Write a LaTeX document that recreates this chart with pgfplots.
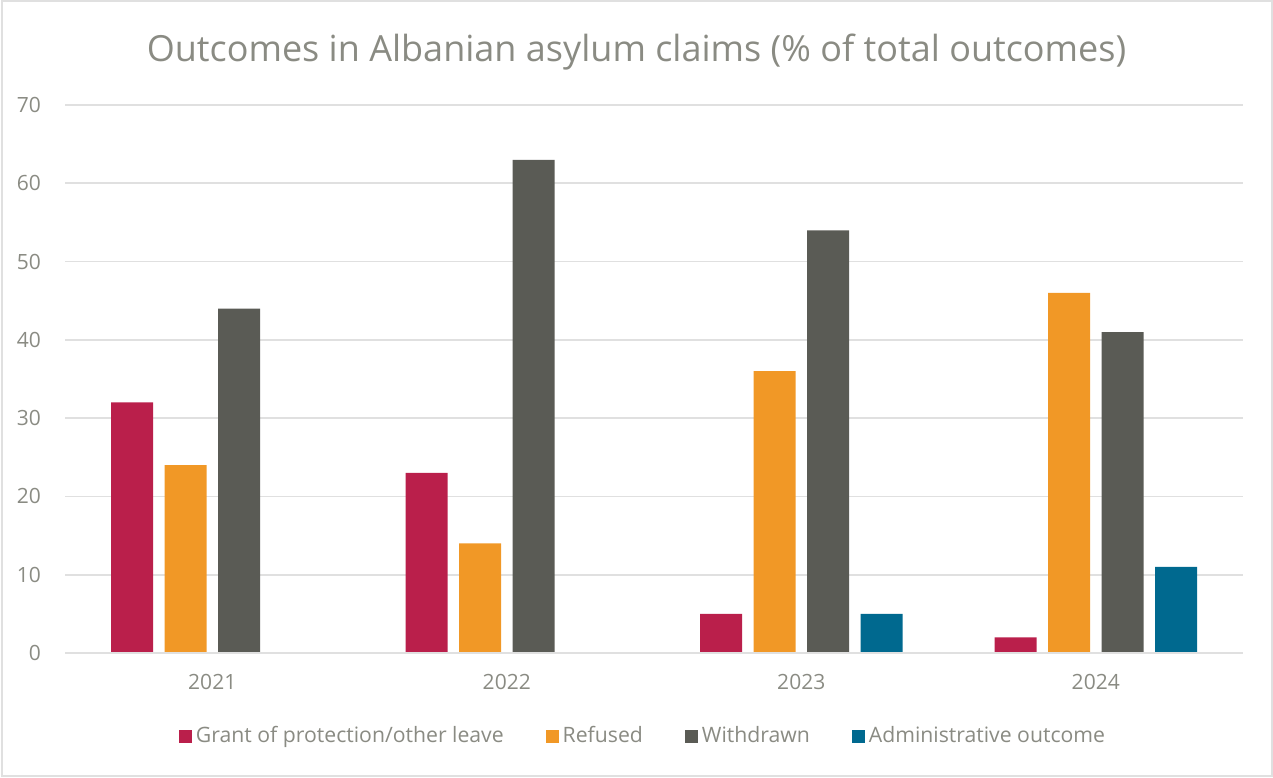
\documentclass[border=0pt]{standalone}
\usepackage{pgfplots}
\pgfplotsset{compat=1.18}
\usepackage{fontspec}
\setmainfont{Open Sans}
\definecolor{cGrant}{HTML}{BA1F4B}
\definecolor{cRef}{HTML}{F19826}
\definecolor{cWith}{HTML}{5A5B55}
\definecolor{cAdm}{HTML}{00698F}
\definecolor{txt}{HTML}{8A8B83}
\definecolor{grid}{HTML}{E0E0E0}
\begin{document}
\begin{tikzpicture}
\path[use as bounding box] (0,0) rectangle (636.5pt,388.5pt);
\draw[draw=grid, line width=1pt] (0.75pt,0.75pt) rectangle (635.75pt,387.75pt);
\node[anchor=base, text=txt, font=\fontsize{18}{21}\selectfont, inner sep=0pt] at (318.25pt,357.5pt)
  {Outcomes in Albanian asylum claims (\% of total outcomes)};
\begin{axis}[
  at={(32.5pt,62pt)}, anchor=south west,
  scale only axis, width=589pt, height=274pt,
  ybar, bar width=21pt,
  xmin=-0.5, xmax=3.5, ymin=0, ymax=70,
  xtick={0,1,2,3}, xticklabels={2021,2022,2023,2024},
  ytick={0,10,...,70},
  axis line style={draw=none},
  major tick length=0pt,
  ymajorgrids, grid style={draw=grid, line width=0.8pt},
  tick label style={text=txt, font=\fontsize{10.5}{12}\selectfont},
  /pgf/number format/assume math mode=true,
  yticklabel style={xshift=-8.5pt},
  xticklabel style={yshift=-7pt},
  legend style={at={(0.4915,-0.1515)}, anchor=center, draw=none, legend columns=-1,
    font=\fontsize{10.6}{12}\selectfont, text=txt,
    /tikz/every even column/.append style={column sep=19pt}},
  legend image code/.code={\fill[#1] (-1pt,-3.25pt) rectangle (5.5pt,3.25pt);},
]
\addplot[fill=cGrant, draw=none, bar shift=-40.125pt] coordinates {(0,32) (1,23) (2,5) (3,2)};
\addplot[fill=cRef, draw=none, bar shift=-13.375pt] coordinates {(0,24) (1,14) (2,36) (3,46)};
\addplot[fill=cWith, draw=none, bar shift=13.375pt] coordinates {(0,44) (1,63) (2,54) (3,41)};
\addplot[fill=cAdm, draw=none, bar shift=40.125pt] coordinates {(2,5) (3,11)};
\legend{Grant of protection/other leave, Refused, Withdrawn, Administrative outcome}
\draw[draw=grid, line width=0.8pt] (axis cs:-0.5,0) -- (axis cs:3.5,0);
\end{axis}
\end{tikzpicture}
\end{document}
